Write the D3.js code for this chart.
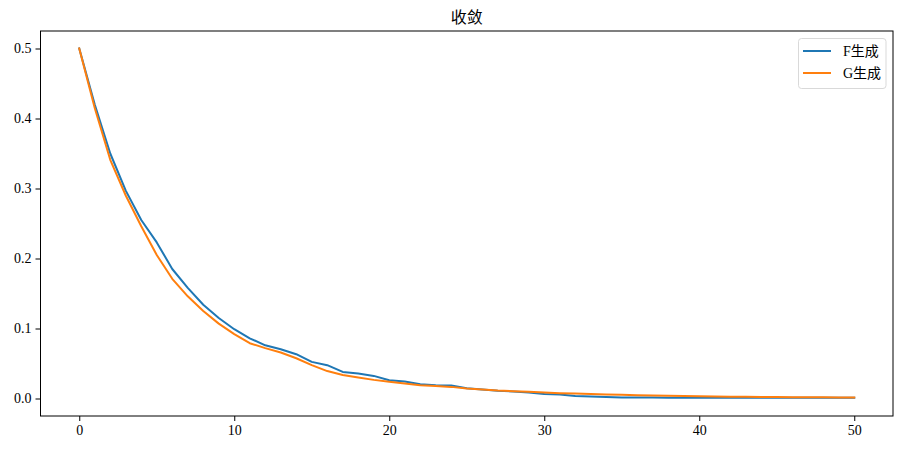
<!DOCTYPE html>
<html>
<head>
<meta charset="utf-8">
<script src="https://cdn.jsdelivr.net/npm/d3@7"></script>
<style>
  html, body { margin: 0; padding: 0; background: #fff; }
</style>
</head>
<body>
<svg id="chart" width="902" height="452"></svg>
<script>
const title = "收敛";
const seriesNames = ["F生成", "G生成"];
const seriesColors = ["#1f77b4", "#ff7f0e"];
const epochs = d3.range(0, 51);
const fValues = [0.5, 0.42, 0.35, 0.297, 0.255, 0.223, 0.185, 0.158, 0.134, 0.115, 0.099, 0.086, 0.076, 0.0704, 0.0633, 0.0523, 0.0476, 0.038, 0.0357, 0.0323, 0.026, 0.0243, 0.0205, 0.019, 0.0186, 0.0147, 0.0128, 0.0109, 0.010, 0.0086, 0.0066,
  0.0057, 0.0037, 0.0028, 0.0022, 0.0014, 0.0013, 0.0013, 0.0012, 0.0012, 0.0012, 0.0011, 0.0011, 0.0011, 0.0011, 0.0011, 0.0011, 0.0011, 0.0011, 0.0011, 0.0011];
const gValues = [0.5, 0.415, 0.341, 0.29, 0.246, 0.205, 0.171, 0.146, 0.125, 0.107, 0.092, 0.079, 0.072, 0.0657, 0.0575, 0.0476, 0.0392, 0.0337, 0.030, 0.0266, 0.0238, 0.0214, 0.0188, 0.018, 0.0166, 0.0143, 0.0128, 0.0114, 0.0105, 0.0095, 0.0086,
  0.0076, 0.007, 0.0064, 0.0058, 0.0052, 0.0048, 0.0044, 0.004, 0.0036, 0.0032, 0.0029, 0.0026, 0.0024, 0.0022, 0.002, 0.0019, 0.0018, 0.0017, 0.0016, 0.0015];
const xTicks = [0, 10, 20, 30, 40, 50];
const yTicks = [0.0, 0.1, 0.2, 0.3, 0.4, 0.5];

const FONT = "Liberation Serif, DejaVu Serif, Noto Sans CJK SC, serif";
const svg = d3.select("#chart").attr("font-family", FONT);
const mLeft = 40.5, mRight = 893, mTop = 31, mBottom = 416;

const x = d3.scaleLinear().domain([-2.5, 52.5]).range([mLeft, mRight]);
const y = d3.scaleLinear().domain([-0.025, 0.525]).range([mBottom, mTop]);

// title
svg.append("text").attr("x", (mLeft + mRight) / 2).attr("y", 23)
  .attr("text-anchor", "middle").attr("font-size", 16).attr("fill", "#000")
  .attr("font-family", FONT).text(title);

// axes
const xAxis = svg.append("g").attr("transform", `translate(0,${mBottom})`)
  .call(d3.axisBottom(x).tickValues(xTicks).tickFormat(d3.format("d")).tickSize(5).tickPadding(4));
const yAxis = svg.append("g").attr("transform", `translate(${mLeft},0)`)
  .call(d3.axisLeft(y).tickValues(yTicks).tickFormat(d3.format(".1f")).tickSize(5).tickPadding(4));
[xAxis, yAxis].forEach(g => {
  g.attr("font-family", FONT).attr("font-size", 14);
  g.select(".domain").remove();
  g.selectAll("line").attr("stroke", "#000").attr("stroke-width", 1);
  g.selectAll("text").attr("fill", "#000").attr("font-family", FONT).attr("font-size", 14);
});

// lines
const series = [fValues, gValues];
const line = d3.line().x((d, i) => x(epochs[i])).y(d => y(d));
series.forEach((vals, k) => {
  svg.append("path").datum(vals).attr("d", line)
    .attr("fill", "none").attr("stroke", seriesColors[k]).attr("stroke-width", 2)
    .attr("stroke-linejoin", "round").attr("stroke-linecap", "square");
});

// frame
svg.append("rect").attr("x", mLeft).attr("y", mTop).attr("width", mRight - mLeft).attr("height", mBottom - mTop)
  .attr("fill", "none").attr("stroke", "#000").attr("stroke-width", 1);

// legend
const lg = svg.append("g");
lg.append("rect").attr("x", 798.5).attr("y", 38.5).attr("width", 87.5).attr("height", 50).attr("rx", 3)
  .attr("fill", "#fff").attr("fill-opacity", 0.8).attr("stroke", "#d9d9d9").attr("stroke-width", 1);
seriesNames.forEach((name, k) => {
  const yy = 51 + k * 22;
  lg.append("line").attr("x1", 803).attr("x2", 831).attr("y1", yy).attr("y2", yy)
    .attr("stroke", seriesColors[k]).attr("stroke-width", 2);
  lg.append("text").attr("x", 843).attr("y", yy).attr("dy", "0.35em")
    .attr("font-size", 14).attr("fill", "#000").attr("font-family", FONT).text(name);
});
</script>
</body>
</html>
